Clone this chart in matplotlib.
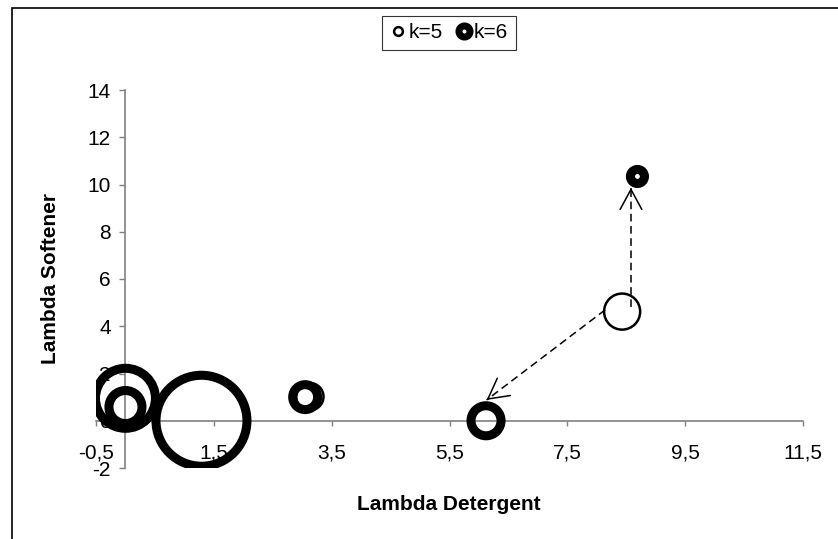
import matplotlib
matplotlib.use("Agg")
import matplotlib.pyplot as plt
from matplotlib.lines import Line2D
from matplotlib.patches import Rectangle
import numpy as np

plt.rcParams['font.family'] = ['Liberation Sans', 'DejaVu Sans']
plt.rcParams['axes.unicode_minus'] = False

# Cluster centres (lambda detergent, lambda softener) and relative bubble sizes
k5_x = [1.29, 0.0, 0.0, 3.13, 8.43]
k5_y = [0.0, 0.95, 0.58, 1.02, 4.62]
k5_size = [100, 43.5, 13.2, 9.0, 15.7]

k6_x = [1.29, 0.0, 0.0, 3.05, 6.12, 8.69]
k6_y = [0.0, 0.95, 0.58, 1.0, 0.0, 10.34]
k6_size = [100, 43.5, 13.2, 7.5, 10.9, 2.4]

x_ticks = [-0.5, 1.5, 3.5, 5.5, 7.5, 9.5, 11.5]
x_tick_labels = ["-0,5", "1,5", "3,5", "5,5", "7,5", "9,5", "11,5"]
y_ticks = [-2, 0, 2, 4, 6, 8, 10, 12, 14]

# Cluster transitions from k=5 to k=6: (start, end)
transitions = [((8.58, 4.82), (8.58, 9.86)),
               ((8.14, 4.69), (6.13, 0.88))]

FS = 15
W, H = 838, 539
fig = plt.figure(figsize=(W / 100, H / 100), dpi=100)
ax = fig.add_axes([96 / W, 1 - 468 / H, (803 - 96) / W, (468 - 90) / H])
ax.set_xlim(-0.5, 11.5)
ax.set_ylim(-2, 14)
ax.patch.set_alpha(0)

# Axes crossing at the origin
for side in ("top", "right"):
    ax.spines[side].set_visible(False)
ax.spines["left"].set_position(("data", 0))
ax.spines["bottom"].set_position(("data", 0))
for side in ("left", "bottom"):
    ax.spines[side].set_color("#808080")
    ax.spines[side].set_linewidth(1.2)

ax.set_xticks(x_ticks)
ax.set_xticklabels(x_tick_labels)
ax.set_yticks(y_ticks)
ax.tick_params(axis="x", direction="out", length=3.8, width=1, color="#808080",
               pad=12.5, labelsize=FS)
ax.tick_params(axis="y", direction="out", length=4.5, width=1, color="#808080",
               pad=6, labelsize=FS)

# Bubble area proportional to size; largest bubble diameter in points
max_diam_pt = 65.5
def areas(sizes):
    return [(max_diam_pt * np.sqrt(s / 100.0)) ** 2 for s in sizes]

ax.scatter(k5_x, k5_y, s=areas(k5_size), facecolors="none", edgecolors="black",
           linewidths=1.8, zorder=3)
ax.scatter(k6_x, k6_y, s=areas(k6_size), facecolors="none", edgecolors="black",
           linewidths=6.5, zorder=4)

# Dashed transition arrows
for (x0, y0), (x1, y1) in transitions:
    ax.plot([x0, x1], [y0, y1], color="black", lw=1.1, dashes=(5, 3), zorder=5)
    dx, dy = x1 - x0, y1 - y0
    ax.annotate("", xy=(x1, y1), xytext=(x1 - dx * 0.02, y1 - dy * 0.02),
                arrowprops=dict(arrowstyle="->,head_length=1.44,head_width=0.78",
                                lw=1.1, color="black", shrinkA=0, shrinkB=0,
                                mutation_scale=10),
                zorder=5)

fig.text(449 / W, 1 - 505 / H, "Lambda Detergent", ha="center", va="center",
         fontsize=FS, fontweight="bold")
fig.text(50 / W, 1 - 279 / H, "Lambda Softener", ha="center", va="center",
         rotation=90, fontsize=FS, fontweight="bold")

handles = [
    Line2D([], [], linestyle="none", marker="o", markersize=6.3, mfc="white",
           mec="black", mew=1.8),
    Line2D([], [], linestyle="none", marker="o", markersize=8, mfc="white",
           mec="black", mew=5),
]
leg = fig.legend(handles, ["k=5", "k=6"], loc="upper center",
                 bbox_to_anchor=(449 / W, 1 - 16 / H), ncol=2, fontsize=FS,
                 frameon=True, fancybox=False, edgecolor="black",
                 handlelength=0.8, handletextpad=0.1, columnspacing=0.6,
                 borderpad=0.35, borderaxespad=0)
leg.get_frame().set_linewidth(0.8)

# Chart area border
fig.add_artist(Rectangle((12 / W, -0.5), 2, 0.5 + 1 - 8 / H,
                         transform=fig.transFigure, fill=False,
                         edgecolor="black", lw=1.2))

fig.savefig("out.png", dpi=100)
